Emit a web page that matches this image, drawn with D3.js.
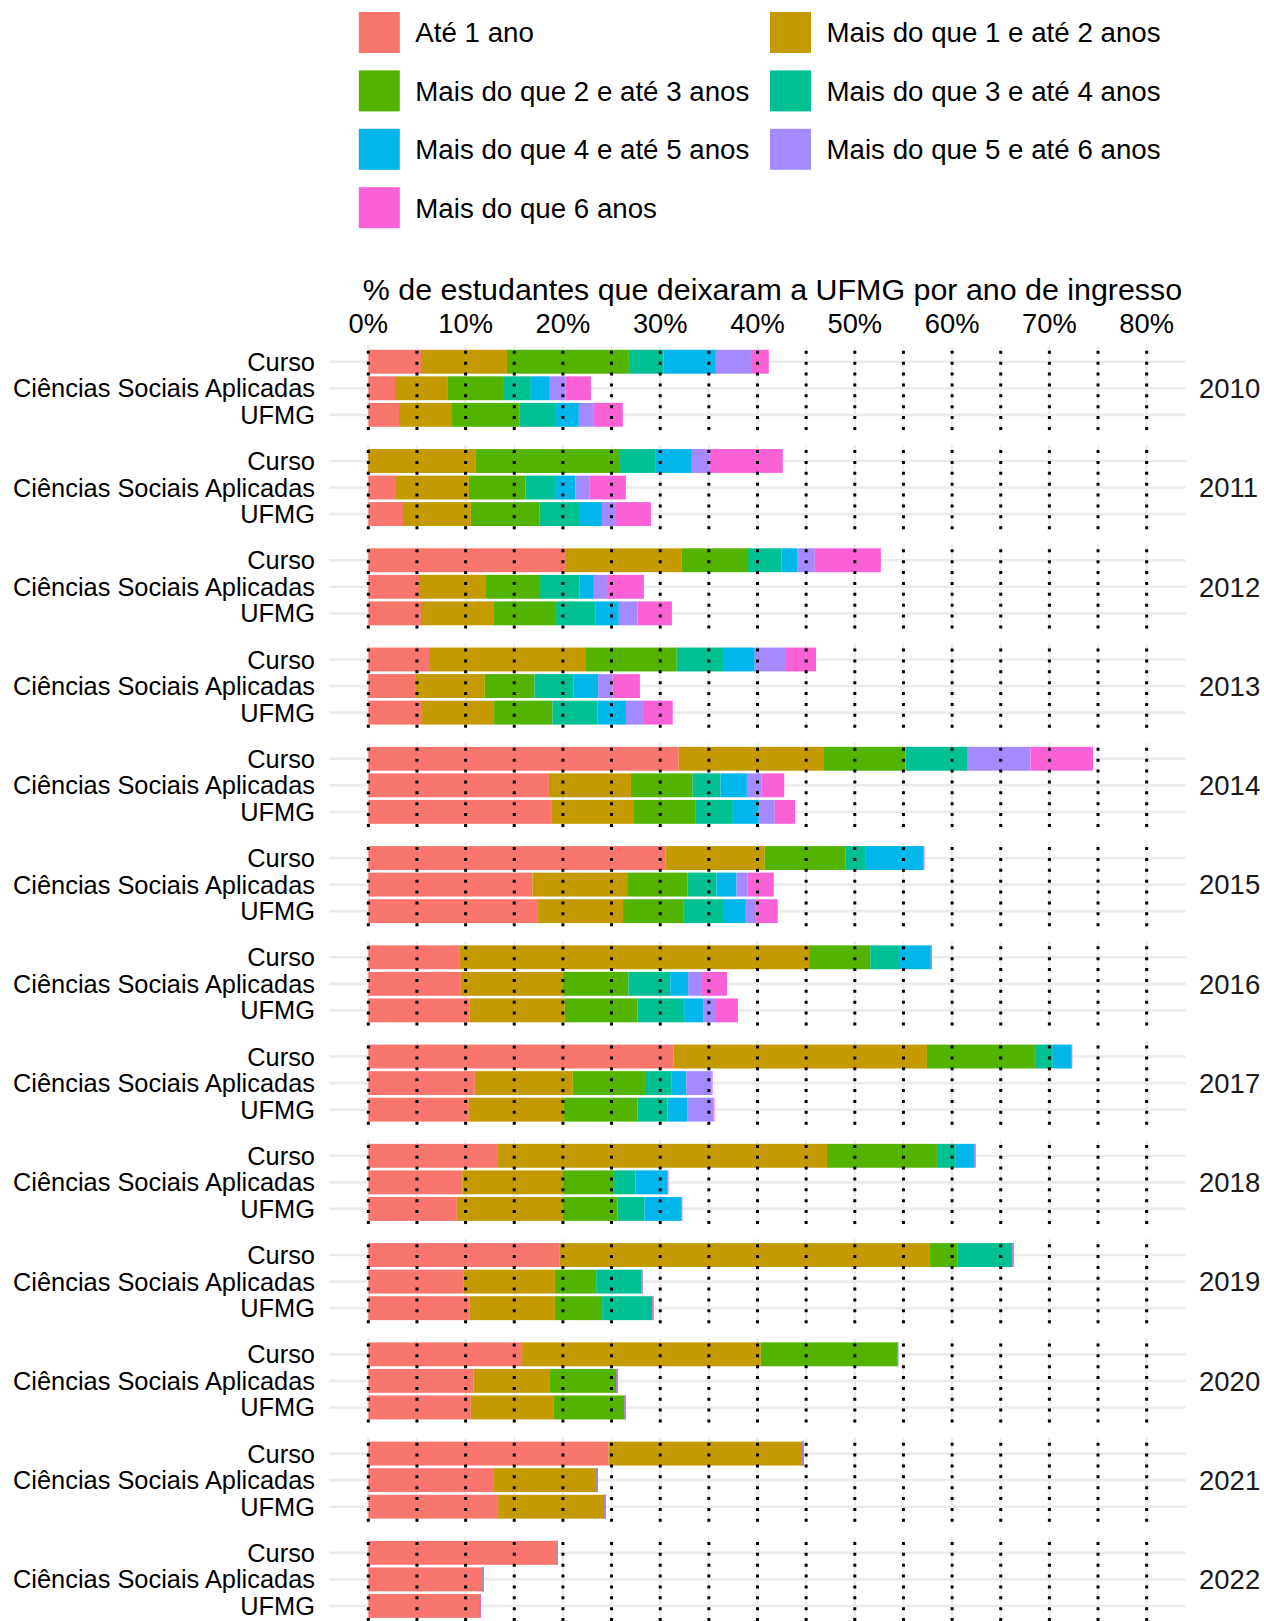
<!DOCTYPE html>
<html><head><meta charset="utf-8">
<script src="https://cdn.jsdelivr.net/npm/d3@7"></script>
<style>
body{margin:0;background:#fff}
svg{display:block}
text{font-family:"Liberation Sans",Arial,Helvetica,sans-serif}
</style>
</head><body>
<svg id="chart" width="1264" height="1621"></svg>
<script>
// ---------------- data ----------------
const years = [2010, 2011, 2012, 2013, 2014, 2015, 2016, 2017, 2018, 2019, 2020, 2021, 2022];
const groups = ["Curso", "Ciências Sociais Aplicadas", "UFMG"];
const durations = [
  "Até 1 ano",
  "Mais do que 1 e até 2 anos",
  "Mais do que 2 e até 3 anos",
  "Mais do que 3 e até 4 anos",
  "Mais do que 4 e até 5 anos",
  "Mais do que 5 e até 6 anos",
  "Mais do que 6 anos"
];
const colors = ["#F8766D", "#C49A00", "#53B400", "#00C094", "#00B6EB", "#A58AFF", "#FB61D7"];
const xTicks = [0, 10, 20, 30, 40, 50, 60, 70, 80];
const xTickLabels = ["0%", "10%", "20%", "30%", "40%", "50%", "60%", "70%", "80%"];
const dottedBreaks = [0, 5, 10, 15, 20, 25, 30, 35, 40, 45, 50, 55, 60, 65, 70, 75, 80];
const titleText = "% de estudantes que deixaram a UFMG por ano de ingresso";

// % per duration class, one row per year (2010..2022)
const curso = [
  [5.41, 8.84, 12.53, 3.56, 5.38, 3.60, 1.84],
  [0, 11.06, 14.80, 3.69, 3.70, 1.85, 7.50],
  [20.31, 11.91, 6.80, 3.46, 1.65, 1.75, 6.80],
  [6.34, 15.95, 9.41, 4.85, 3.17, 3.12, 3.17],
  [31.90, 14.93, 8.38, 6.39, 0, 6.45, 6.44],
  [30.57, 10.17, 8.28, 2.04, 5.98, 0, 0],
  [9.41, 35.89, 6.29, 3.06, 3.17, 0, 0],
  [31.39, 26.02, 11.10, 1.84, 1.89, 0, 0],
  [13.24, 33.90, 11.30, 1.94, 1.94, 0, 0],
  [19.68, 38.04, 2.81, 5.68, 0, 0, 0],
  [15.80, 24.54, 14.01, 0, 0, 0, 0],
  [24.69, 19.94, 0, 0, 0, 0, 0],
  [19.38, 0, 0, 0, 0, 0, 0]
];
const csa = [
  [2.74, 5.44, 5.76, 2.77, 1.95, 1.58, 2.64],
  [2.84, 7.50, 5.82, 3.02, 2.09, 1.44, 3.76],
  [5.21, 6.88, 5.55, 4.04, 1.50, 1.34, 3.80],
  [4.81, 7.15, 5.12, 4.03, 2.51, 1.48, 2.81],
  [18.56, 8.43, 6.34, 2.87, 2.71, 1.48, 2.35],
  [16.87, 9.82, 6.13, 2.97, 2.04, 1.13, 2.71],
  [9.51, 10.48, 6.75, 4.29, 1.84, 1.33, 2.66],
  [10.94, 10.07, 7.42, 2.70, 1.54, 2.61, 0],
  [9.66, 10.33, 5.27, 2.19, 3.28, 0, 0],
  [9.82, 9.35, 4.25, 4.65, 0, 0, 0],
  [10.79, 7.87, 6.85, 0, 0, 0, 0],
  [12.83, 10.64, 0, 0, 0, 0, 0],
  [11.76, 0, 0, 0, 0, 0, 0]
];
const ufmg = [
  [3.15, 5.45, 6.91, 3.77, 2.36, 1.54, 2.98],
  [3.56, 6.99, 7.02, 4.18, 2.26, 1.44, 3.59],
  [5.41, 7.50, 6.37, 4.04, 2.43, 1.92, 3.53],
  [5.52, 7.41, 5.99, 4.65, 2.91, 1.74, 3.07],
  [18.87, 8.43, 6.29, 3.88, 2.66, 1.64, 2.10],
  [17.43, 8.75, 6.18, 4.19, 2.25, 1.08, 2.20],
  [10.43, 9.76, 7.47, 4.80, 1.95, 1.22, 2.36],
  [10.33, 9.76, 7.57, 3.07, 2.04, 2.71, 0],
  [9.10, 10.89, 5.62, 2.76, 3.79, 0, 0],
  [10.43, 8.74, 4.86, 5.16, 0, 0, 0],
  [10.53, 8.54, 7.26, 0, 0, 0, 0],
  [13.34, 10.94, 0, 0, 0, 0, 0],
  [11.45, 0, 0, 0, 0, 0, 0]
];
const groupValues = [curso, csa, ufmg];

// ---------------- layout ----------------
const svg = d3.select("#chart");
const panelLeft = 329.4, panelRight = 1185.6;
const x = d3.scaleLinear().domain([-4, 84]).range([panelLeft, panelRight]);

const panelTop0 = 345.8, panelStep = 99.26, panelGap = 14.3;
const panelH = panelStep - panelGap;
const facet = d3.scaleBand().domain(years)
  .range([panelTop0, panelTop0 + panelStep * (years.length - (panelGap / panelStep))])
  .paddingInner(panelGap / panelStep).paddingOuter(0);
const yc = d3.scalePoint().domain(groups).range([0, panelH]).padding(0.6);
const rowStep = yc.step();
const barH = rowStep * 0.9;

const color = d3.scaleOrdinal().domain(durations).range(colors);

// build stacked records
const records = [];
years.forEach((yr, yi) => {
  groups.forEach((g, gi) => {
    const vals = groupValues[gi][yi];
    let acc = 0;
    vals.forEach((v, di) => {
      records.push({year: yr, group: g, dur: durations[di], x0: acc, x1: acc + v});
      acc += v;
    });
  });
});

// panels
const panels = svg.append("g").selectAll("g.panel").data(years).join("g")
  .attr("class", "panel")
  .attr("transform", d => `translate(0,${facet(d)})`);

// gray grid
panels.each(function() {
  const p = d3.select(this);
  p.selectAll("line.vg").data(dottedBreaks).join("line")
    .attr("x1", d => x(d)).attr("x2", d => x(d))
    .attr("y1", 0).attr("y2", facet.bandwidth())
    .attr("stroke", "#EBEBEB").attr("stroke-width", d => d % 10 === 0 ? 2.4 : 1.6);
  p.selectAll("line.hg").data(groups).join("line")
    .attr("x1", panelLeft).attr("x2", panelRight)
    .attr("y1", d => yc(d)).attr("y2", d => yc(d))
    .attr("stroke", "#EBEBEB").attr("stroke-width", 2.6);
});

// bars
panels.each(function(yr) {
  const p = d3.select(this);
  p.selectAll("rect").data(records.filter(r => r.year === yr)).join("rect")
    .attr("x", d => x(d.x0))
    .attr("width", d => Math.max(x(d.x1) - x(d.x0), 1))
    .attr("y", d => yc(d.group) - barH / 2)
    .attr("height", barH)
    .attr("fill", d => color(d.dur));
});

// dotted vertical lines on top
panels.each(function() {
  const p = d3.select(this);
  p.selectAll("line.dot").data(dottedBreaks).join("line")
    .attr("x1", d => x(d)).attr("x2", d => x(d))
    .attr("y1", 0).attr("y2", facet.bandwidth())
    .attr("stroke", "#000").attr("stroke-width", 3)
    .attr("stroke-dasharray", "3,7.87").attr("stroke-dashoffset", 5.87);
});

// y labels
panels.each(function() {
  const p = d3.select(this);
  p.selectAll("text.yl").data(groups).join("text")
    .attr("x", 315).attr("y", d => yc(d)).attr("dy", "0.355em")
    .attr("text-anchor", "end").attr("font-size", 25.4).attr("fill", "#000")
    .text(d => d);
});

// strip labels (right)
panels.append("text")
  .attr("x", 1199).attr("y", facet.bandwidth() / 2).attr("dy", "0.355em")
  .attr("font-size", 27.5).attr("fill", "#1A1A1A")
  .text(d => d);

// top x axis tick labels
svg.append("g").selectAll("text").data(xTicks).join("text")
  .attr("x", d => x(d)).attr("y", 333)
  .attr("text-anchor", "middle").attr("font-size", 27.3).attr("fill", "#000")
  .text((d, i) => xTickLabels[i]);

// axis title on top
svg.append("text")
  .attr("x", 772.5).attr("y", 300).attr("text-anchor", "middle")
  .attr("font-size", 30.4).attr("fill", "#000")
  .text(titleText);

// legend
const legendX = [358.8, 770], legendTop = 12, legendRowStep = 58.4, keySize = 41;
const lg = svg.append("g").selectAll("g").data(durations).join("g")
  .attr("transform", (d, i) => `translate(${legendX[i % 2]},${legendTop + Math.floor(i / 2) * legendRowStep})`);
lg.append("rect").attr("width", keySize).attr("height", keySize).attr("fill", d => color(d));
lg.append("text").attr("x", keySize + 15.5).attr("y", keySize / 2).attr("dy", "0.355em")
  .attr("font-size", 27.7).attr("fill", "#000").text(d => d);
</script>
</body></html>
